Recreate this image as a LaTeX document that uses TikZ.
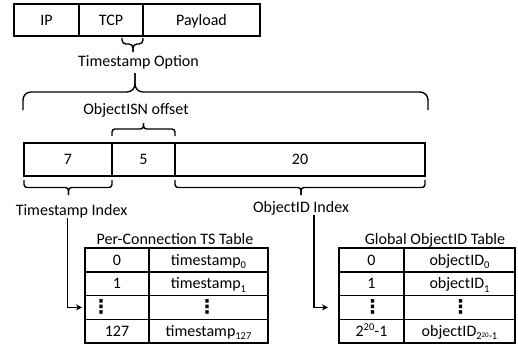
\documentclass[tikz,border=0pt]{standalone}
\usepackage{fontspec}
\setmainfont{Carlito}
\newfontfamily\dejavu{DejaVu Sans}
\usetikzlibrary{arrows.meta}
\newcommand\lsub[1]{\raisebox{-0.45ex}{\fontsize{10.5}{10.5}\selectfont #1}}
\newcommand\vdotsym{{\dejavu\fontsize{19}{19}\selectfont\bfseries ⋮}}
\newcommand\mybrace[7]{%
  \draw[br,rounded corners=#7] (#1,#4) -- (#1,#5) -- (#3,#5) -- (#3,#6);
  \draw[br,rounded corners=#7] (#2,#4) -- (#2,#5) -- (#3,#5) -- (#3,#6);}
\begin{document}
\begin{tikzpicture}[x=1pt,y=-1pt,font=\fontsize{16}{19}\selectfont,
  cell/.style={draw,line width=1.5pt,inner sep=0pt,outer sep=0pt,text height=10.5pt,text depth=0pt},
  trow/.style={cell,minimum height=23.75},
  br/.style={line width=1.4pt},
  arr/.style={line width=1.4pt,-{Stealth[length=6pt,width=6pt]}},
  lab/.style={anchor=base,inner sep=0pt},
  dots/.style={inner sep=0pt}]
\useasboundingbox (0,0) rectangle (518,345);
% packet
\node[cell,minimum width=65,minimum height=32] (ip) at (46.5,20) {IP};
\node[cell,minimum width=64,minimum height=32] (tcp) at (111,20) {TCP};
\node[cell,minimum width=117,minimum height=32] (pay) at (201.5,20) {Payload};
% timestamp option bar
\node[cell,minimum width=88,minimum height=33] (b7) at (68,159.5) {7};
\node[cell,minimum width=63,minimum height=33] (b5) at (143.5,159.5) {5};
\node[cell,minimum width=250,minimum height=33] (b20) at (300,159.5) {20};
% labels
\node[lab] (tsopt) at (138.5,66.5) {Timestamp Option};
\node[lab] (isn) at (136,114) {ObjectISN offset};
\node[lab] (tsidx) at (71.5,215.5) {Timestamp Index};
\node[lab] (oididx) at (301,212.5) {ObjectID Index};
\node[lab] (lt) at (175,244) {Per-Connection TS Table};
\node[lab] (rt) at (435,244) {Global ObjectID Table};
% braces
\mybrace{122}{143}{133}{38}{44}{52}{4}
\mybrace{23}{428}{135}{110}{92}{73}{8}
\mybrace{112}{175}{143.5}{136}{129}{123}{3}
\mybrace{24}{112}{68.5}{180}{187.5}{195}{3}
\mybrace{175}{425}{301}{180}{187.5}{195}{3}
% left table
\node[trow,minimum width=64] (L1a) at (117,259.875) {0};
\node[trow,minimum width=119] (L1b) at (208.5,259.875) {timestamp\lsub{0}};
\node[trow,minimum width=64] (L2a) at (117,283.625) {1};
\node[trow,minimum width=119] (L2b) at (208.5,283.625) {timestamp\lsub{1}};
\node[trow,minimum width=64] (L3a) at (117,307.375) {};
\node[trow,minimum width=119] (L3b) at (208.5,307.375) {};
\node[trow,minimum width=64] (L4a) at (117,331.125) {127};
\node[trow,minimum width=119] (L4b) at (208.5,331.125) {timestamp\lsub{127}};
\node[dots] (Ld1) at (101,307.375) {\vdotsym};
\node[dots] (Ld2) at (207,307.375) {\vdotsym};
% right table
\node[trow,minimum width=65] (R1a) at (371.5,259.875) {0};
\node[trow,minimum width=111] (R1b) at (459.5,259.875) {objectID\lsub{0}};
\node[trow,minimum width=65] (R2a) at (371.5,283.625) {1};
\node[trow,minimum width=111] (R2b) at (459.5,283.625) {objectID\lsub{1}};
\node[trow,minimum width=65] (R3a) at (371.5,307.375) {};
\node[trow,minimum width=111] (R3b) at (459.5,307.375) {};
\node[trow,minimum width=65] (R4a) at (371.5,331.125) {2\raisebox{0.75ex}{\fontsize{10.5}{10.5}\selectfont 20}-1};
\node[trow,minimum width=111] (R4b) at (459.5,331.125) {objectID\lsub{2\raisebox{0.55ex}{\fontsize{7}{7}\selectfont 20}-1}};
\node[dots] (Rd1) at (372.5,307.375) {\vdotsym};
\node[dots] (Rd2) at (460.5,307.375) {\vdotsym};
% arrows
\draw[arr,shorten >=3pt] ([xshift=-4pt]tsidx.south) |- (L3a.west);
\draw[arr,shorten >=11pt] ([xshift=13pt]oididx.south) |- (R3a.west);
\end{tikzpicture}
\end{document}
